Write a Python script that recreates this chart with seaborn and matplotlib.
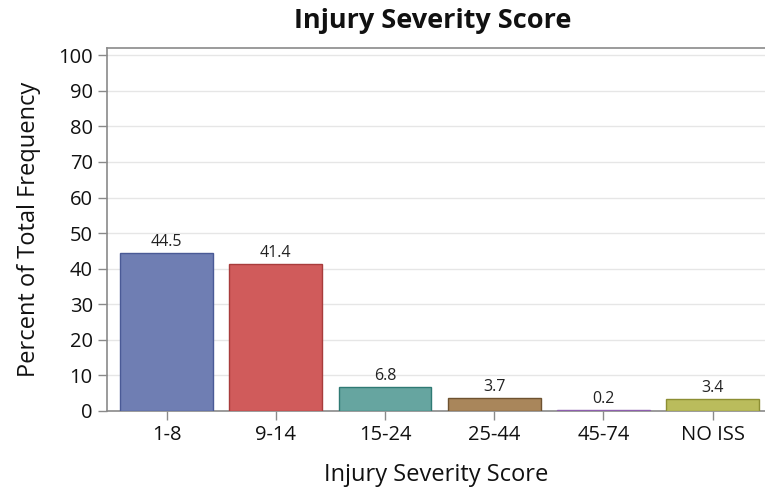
import matplotlib
matplotlib.use("Agg")
import matplotlib.pyplot as plt
import pandas as pd
import seaborn as sns

CATEGORIES = ["1-8", "9-14", "15-24", "25-44", "45-74", "NO ISS"]
PERCENTS = [44.5, 41.4, 6.8, 3.7, 0.2, 3.4]
FILL_COLORS = ["#6F7EB3", "#D05B5B", "#66A5A0", "#A9865B", "#B689CD", "#BABC5C"]
EDGE_COLORS = ["#4A5A96", "#A83C3C", "#2F7A74", "#6E5230", "#8E5FAE", "#8C8E33"]
Y_TICKS = list(range(0, 101, 10))

sns.set_theme(style="white")
plt.rcParams["font.family"] = ["Open Sans", "DejaVu Sans"]

df = pd.DataFrame({"score": CATEGORIES, "pct": PERCENTS})

fig = plt.figure(figsize=(7.65, 4.91), dpi=100)
ax = fig.add_axes([0.1394, 0.163, 0.8606, 0.739])

sns.barplot(
    data=df,
    x="score",
    y="pct",
    hue="score",
    palette=FILL_COLORS,
    saturation=1,
    legend=False,
    width=0.85,
    linewidth=1,
    ax=ax,
    zorder=3,
)
for patch, edge in zip(ax.patches, EDGE_COLORS):
    patch.set_edgecolor(edge)

for i, value in enumerate(PERCENTS):
    ax.annotate(
        f"{value:.1f}",
        (i, value),
        xytext=(0, 2),
        textcoords="offset points",
        ha="center",
        va="bottom",
        fontsize=11.5,
        color="#222222",
    )

ax.set_ylim(0, 102)
ax.set_xlim(-0.55, 5.48)
ax.set_yticks(Y_TICKS)
ax.yaxis.grid(True, color="#E6E6E6", linewidth=1, zorder=0)
ax.set_axisbelow(True)

ax.spines["right"].set_visible(False)
for side in ["left", "bottom", "top"]:
    ax.spines[side].set_color("#8A8A8A")
    ax.spines[side].set_linewidth(1.2)

ax.tick_params(axis="both", which="major", length=6.5, width=1, color="#8A8A8A",
               labelsize=14.5, labelcolor="#111111", left=True, bottom=True)

ax.set_xlabel("Injury Severity Score", fontsize=17, labelpad=13, color="#111111")
ax.set_ylabel("Percent of Total Frequency", fontsize=17, labelpad=12, color="#111111")
fig.text(0.566, 0.958, "Injury Severity Score", ha="center", va="center",
         fontsize=19.5, fontweight="bold", color="#111111")

fig.savefig("out.png", dpi=100)
